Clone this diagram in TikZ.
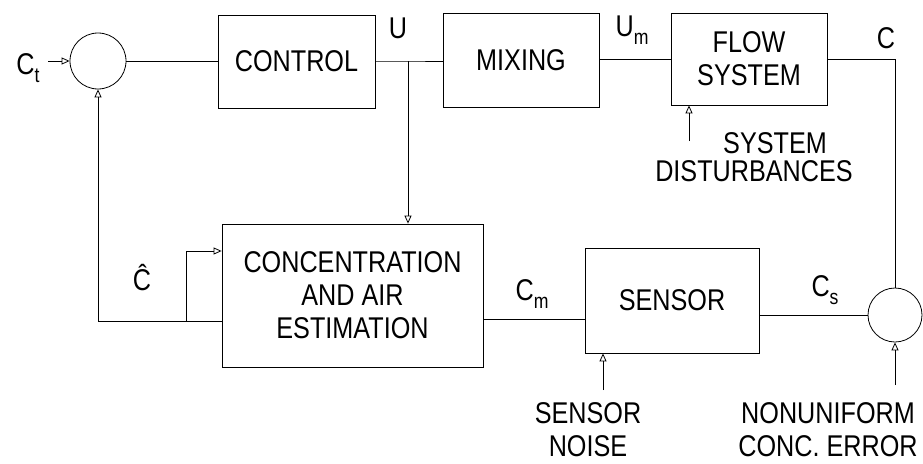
\documentclass[tikz,border=0pt]{standalone}
\usepackage{fontspec}
\setmainfont{Liberation Sans}[FakeStretch=0.84]
\usetikzlibrary{arrows.meta}
\newcommand{\sbs}[1]{\raisebox{-0.5ex}{\fontsize{21}{23}\selectfont #1}}
\begin{document}
\begin{tikzpicture}[x=1pt,y=-1pt,
  font=\fontsize{30}{33}\selectfont,
  line width=0.8pt,
  blk/.style={draw,rectangle,inner sep=0pt,align=center},
  sumc/.style={draw,circle,inner sep=0pt},
  arr/.style={-{Triangle[open,length=8pt,width=7pt]}},
  lbl/.style={inner sep=0pt},
  caps/.style={inner sep=0pt,text height=21pt,text depth=0pt}]
\useasboundingbox (0,0) rectangle (923,463);
% blocks
\node[blk,minimum width=157pt,minimum height=93pt] (control) at (296.5,61.5) {CONTROL};
\node[blk,minimum width=156pt,minimum height=94pt] (mixing) at (521,60) {MIXING};
\node[blk,minimum width=156pt,minimum height=92pt] (flow) at (749,59) {FLOW\\SYSTEM};
\node[blk,minimum width=261pt,minimum height=143pt] (est) at (352.5,295.5) {CONCENTRATION\\AND AIR\\ESTIMATION};
\node[blk,minimum width=174pt,minimum height=105pt] (sensor) at (672,300.5) {SENSOR};
\node[sumc,minimum size=56pt] (sum1) at (98,61) {};
\node[sumc,minimum size=54pt] (sum2) at (895,315) {};
% coordinates
\coordinate (ct) at (48,61);
\coordinate (ju) at (408,61);
\coordinate (fb) at (99,321);
\coordinate (br) at (186,321);
\coordinate (br2) at (186,251);
\coordinate (cm) at (0,319);
\coordinate (sd) at (689,141);
\coordinate (sn) at (603,390);
\coordinate (nu) at (895,385);
% connectors
\draw[arr] (ct) -- (sum1.west);
\draw (sum1.east) -- (sum1.east -| control.west);
\draw (control.east |- ju) -- (ju) -- (ju -| mixing.west);
\draw[arr] (ju) -- (ju |- est.north);
\draw (mixing.east |- flow.west) -- (flow.west);
\draw (flow.east) -- (flow.east -| sum2) -- (sum2.north);
\draw[arr] (sd) -- (sd |- flow.south);
\draw (est.east |- cm) -- (sensor.west |- cm);
\draw (sensor.east |- sum2.west) -- (sum2.west);
\draw[arr] (sn) -- (sn |- sensor.south);
\draw[arr] (nu) -- (sum2.south);
\draw[arr] (est.west |- fb) -- (fb -| sum1) -- (sum1.south);
\draw[arr] (br) -- (br2) -- (br2 -| est.west);
% labels
\node[lbl] (lct) at (28,68) {C\sbs{t}};
\node[lbl] (lu) at (398,28) {U};
\node[lbl] (lum) at (632,30) {U\sbs{m}};
\node[lbl] (lc) at (886,38) {C};
\node[lbl] (lch) at (142,278) {\^{C}};
\node[lbl] (lcm) at (532,294) {C\sbs{m}};
\node[lbl] (lcs) at (825,290) {C\sbs{s}};
\node[caps] (lsys) at (775,143) {SYSTEM};
\node[caps] (ldist) at (754,171) {DISTURBANCES};
\node[lbl,align=center] (lsn) at (588,430) {SENSOR\\NOISE};
\node[lbl,align=center] (lnu) at (828,430) {NONUNIFORM\\CONC. ERROR};
\end{tikzpicture}
\end{document}
